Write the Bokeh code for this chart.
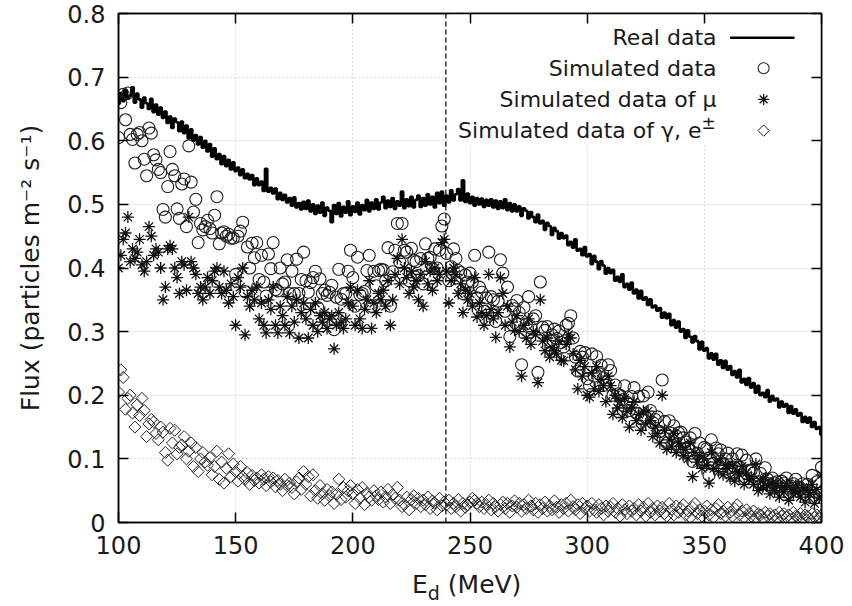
from bokeh.plotting import figure
from bokeh.layouts import column
from bokeh.models import Range1d, LinearAxis, FixedTicker, Span, BoxAnnotation, Label, Div
from bokeh.embed import file_html
from bokeh.resources import INLINE

FONT = "DejaVu Sans"
TEXT = "#1a1a1a"

# ---------------- data ----------------
e_start = 100  # MeV, one value per MeV

real_flux = [
    0.658, 0.675, 0.662, 0.680, 0.666, 0.671, 0.684, 0.660, 0.674, 0.665,
    0.652, 0.668, 0.659, 0.650, 0.666, 0.645, 0.657, 0.641, 0.652, 0.636,
    0.646, 0.628, 0.638, 0.620, 0.635, 0.629, 0.615, 0.630, 0.612, 0.624,
    0.604, 0.618, 0.600, 0.609, 0.594, 0.606, 0.589, 0.600, 0.583, 0.595,
    0.575, 0.588, 0.571, 0.579, 0.563, 0.576, 0.560, 0.570, 0.555, 0.566,
    0.552, 0.558, 0.546, 0.555, 0.541, 0.548, 0.539, 0.546, 0.530, 0.541,
    0.530, 0.536, 0.521, 0.556, 0.520, 0.526, 0.517, 0.525, 0.508, 0.518,
    0.507, 0.515, 0.503, 0.510, 0.498, 0.511, 0.495, 0.502, 0.492, 0.504,
    0.493, 0.506, 0.489, 0.500, 0.485, 0.498, 0.487, 0.503, 0.482, 0.495,
    0.490, 0.472, 0.499, 0.485, 0.502, 0.481, 0.496, 0.487, 0.505, 0.483,
    0.497, 0.488, 0.503, 0.484, 0.499, 0.491, 0.507, 0.489, 0.503, 0.493,
    0.508, 0.492, 0.503, 0.512, 0.494, 0.506, 0.496, 0.510, 0.493, 0.505,
    0.498, 0.520, 0.494, 0.508, 0.497, 0.512, 0.495, 0.507, 0.514, 0.496,
    0.510, 0.498, 0.516, 0.500, 0.512, 0.495, 0.518, 0.502, 0.520, 0.498,
    0.514, 0.503, 0.522, 0.506, 0.516, 0.524, 0.506, 0.538, 0.504, 0.517,
    0.502, 0.512, 0.498, 0.510, 0.500, 0.509, 0.496, 0.507, 0.498, 0.508,
    0.495, 0.506, 0.493, 0.505, 0.494, 0.508, 0.491, 0.502, 0.489, 0.500,
    0.489, 0.497, 0.482, 0.494, 0.490, 0.478, 0.488, 0.480, 0.472, 0.484,
    0.470, 0.474, 0.460, 0.471, 0.466, 0.452, 0.463, 0.458, 0.446, 0.455,
    0.447, 0.451, 0.436, 0.441, 0.432, 0.445, 0.427, 0.430, 0.420, 0.433,
    0.418, 0.422, 0.406, 0.419, 0.410, 0.398, 0.411, 0.404, 0.391, 0.400,
    0.392, 0.397, 0.380, 0.386, 0.378, 0.390, 0.370, 0.375, 0.366, 0.377,
    0.360, 0.366, 0.352, 0.364, 0.350, 0.354, 0.342, 0.351, 0.338, 0.341,
    0.333, 0.337, 0.322, 0.330, 0.321, 0.328, 0.310, 0.318, 0.306, 0.316,
    0.300, 0.304, 0.290, 0.302, 0.292, 0.283, 0.293, 0.285, 0.272, 0.284,
    0.270, 0.274, 0.258, 0.266, 0.256, 0.265, 0.248, 0.255, 0.243, 0.254,
    0.240, 0.246, 0.232, 0.238, 0.228, 0.240, 0.220, 0.226, 0.216, 0.227,
    0.212, 0.219, 0.204, 0.215, 0.200, 0.204, 0.197, 0.208, 0.190, 0.199,
    0.192, 0.195, 0.181, 0.190, 0.182, 0.186, 0.172, 0.183, 0.171, 0.178,
    0.168, 0.172, 0.158, 0.166, 0.157, 0.165, 0.150, 0.158, 0.147, 0.150,
    0.138,
]

sim_total = [
    0.605, 0.660, 0.673, 0.633, 0.675, 0.610, 0.602, 0.565, 0.610, 0.613,
    0.600, 0.571, 0.545, 0.620, 0.612, 0.578, 0.570, 0.555, 0.550, 0.492,
    0.480, 0.528, 0.583, 0.555, 0.545, 0.493, 0.478, 0.532, 0.540, 0.465,
    0.592, 0.535, 0.488, 0.508, 0.440, 0.470, 0.460, 0.465, 0.475, 0.462,
    0.455, 0.483, 0.512, 0.438, 0.455, 0.457, 0.450, 0.453, 0.447, 0.447,
    0.390, 0.450, 0.458, 0.472, 0.363, 0.433, 0.400, 0.439, 0.416, 0.440,
    0.382, 0.420, 0.378, 0.356, 0.422, 0.399, 0.440, 0.366, 0.364, 0.400,
    0.375, 0.378, 0.413, 0.360, 0.395, 0.360, 0.414, 0.360, 0.382, 0.425,
    0.380, 0.362, 0.377, 0.385, 0.395, 0.338, 0.383, 0.360, 0.365, 0.357,
    0.362, 0.373, 0.303, 0.354, 0.398, 0.351, 0.360, 0.360, 0.395, 0.428,
    0.385, 0.340, 0.417, 0.358, 0.360, 0.363, 0.396, 0.420, 0.340, 0.395,
    0.372, 0.396, 0.398, 0.397, 0.380, 0.432, 0.340, 0.394, 0.428, 0.470,
    0.410, 0.470, 0.428, 0.425, 0.380, 0.431, 0.412, 0.410, 0.388, 0.415,
    0.375, 0.438, 0.415, 0.417, 0.399, 0.430, 0.400, 0.428, 0.466, 0.477,
    0.423, 0.380, 0.402, 0.430, 0.415, 0.396, 0.393, 0.360, 0.389, 0.378,
    0.392, 0.378, 0.420, 0.353, 0.370, 0.362, 0.332, 0.353, 0.425, 0.355,
    0.350, 0.316, 0.348, 0.413, 0.392, 0.332, 0.370, 0.292, 0.341, 0.336,
    0.349, 0.330, 0.248, 0.338, 0.312, 0.355, 0.306, 0.320, 0.325, 0.236,
    0.378, 0.307, 0.302, 0.308, 0.286, 0.295, 0.304, 0.289, 0.301, 0.283,
    0.276, 0.310, 0.313, 0.325, 0.290, 0.260, 0.238, 0.269, 0.260, 0.267,
    0.226, 0.215, 0.265, 0.230, 0.261, 0.234, 0.247, 0.227, 0.216, 0.248,
    0.239, 0.200, 0.216, 0.202, 0.200, 0.193, 0.215, 0.189, 0.176, 0.198,
    0.212, 0.172, 0.198, 0.163, 0.199, 0.165, 0.205, 0.176, 0.157, 0.162,
    0.166, 0.143, 0.224, 0.159, 0.125, 0.160, 0.140, 0.152, 0.136, 0.141,
    0.142, 0.133, 0.127, 0.118, 0.133, 0.096, 0.140, 0.109, 0.125, 0.095,
    0.118, 0.116, 0.074, 0.130, 0.093, 0.117, 0.108, 0.114, 0.093, 0.100,
    0.109, 0.086, 0.100, 0.087, 0.108, 0.087, 0.106, 0.068, 0.098, 0.082,
    0.082, 0.078, 0.100, 0.064, 0.077, 0.061, 0.086, 0.068, 0.059, 0.070,
    0.062, 0.064, 0.056, 0.065, 0.062, 0.070, 0.047, 0.057, 0.061, 0.068,
    0.056, 0.054, 0.061, 0.044, 0.060, 0.049, 0.074, 0.038, 0.064, 0.046,
    0.087,
]

sim_mu = [
    0.400, 0.420, 0.445, 0.455, 0.480, 0.410, 0.430, 0.415, 0.425, 0.445,
    0.405, 0.395, 0.410, 0.465, 0.450, 0.420, 0.430, 0.425, 0.400, 0.350,
    0.370, 0.430, 0.435, 0.430, 0.400, 0.385, 0.360, 0.410, 0.405, 0.365,
    0.480, 0.410, 0.400, 0.390, 0.360, 0.370, 0.350, 0.370, 0.385, 0.360,
    0.380, 0.395, 0.400, 0.370, 0.360, 0.395, 0.365, 0.345, 0.375, 0.355,
    0.310, 0.385, 0.370, 0.400, 0.295, 0.355, 0.340, 0.365, 0.350, 0.370,
    0.320, 0.345, 0.310, 0.298, 0.350, 0.335, 0.370, 0.310, 0.298, 0.340,
    0.325, 0.310, 0.355, 0.298, 0.340, 0.315, 0.350, 0.290, 0.330, 0.345,
    0.320, 0.290, 0.335, 0.310, 0.345, 0.300, 0.325, 0.315, 0.330, 0.305,
    0.320, 0.325, 0.273, 0.310, 0.330, 0.315, 0.305, 0.320, 0.345, 0.370,
    0.340, 0.310, 0.365, 0.320, 0.305, 0.335, 0.350, 0.380, 0.305, 0.345,
    0.330, 0.360, 0.350, 0.365, 0.340, 0.380, 0.310, 0.350, 0.390, 0.415,
    0.375, 0.445, 0.400, 0.385, 0.360, 0.395, 0.370, 0.380, 0.350, 0.390,
    0.340, 0.410, 0.375, 0.395, 0.365, 0.400, 0.380, 0.390, 0.440, 0.445,
    0.395, 0.345, 0.380, 0.400, 0.390, 0.360, 0.375, 0.330, 0.365, 0.350,
    0.360, 0.340, 0.385, 0.323, 0.345, 0.330, 0.310, 0.325, 0.390, 0.335,
    0.320, 0.291, 0.330, 0.385, 0.360, 0.310, 0.340, 0.276, 0.315, 0.302,
    0.325, 0.300, 0.230, 0.310, 0.290, 0.320, 0.280, 0.300, 0.295, 0.220,
    0.350, 0.285, 0.270, 0.290, 0.260, 0.275, 0.270, 0.265, 0.285, 0.255,
    0.254, 0.280, 0.295, 0.290, 0.265, 0.240, 0.210, 0.255, 0.230, 0.245,
    0.200, 0.197, 0.235, 0.210, 0.245, 0.206, 0.225, 0.215, 0.190, 0.230,
    0.215, 0.170, 0.200, 0.180, 0.190, 0.165, 0.195, 0.175, 0.150, 0.180,
    0.190, 0.160, 0.170, 0.145, 0.175, 0.155, 0.175, 0.160, 0.135, 0.150,
    0.140, 0.125, 0.200, 0.145, 0.115, 0.130, 0.120, 0.140, 0.110, 0.125,
    0.120, 0.105, 0.115, 0.100, 0.125, 0.072, 0.110, 0.095, 0.105, 0.085,
    0.100, 0.090, 0.062, 0.110, 0.085, 0.095, 0.080, 0.100, 0.075, 0.090,
    0.085, 0.070, 0.090, 0.065, 0.080, 0.075, 0.088, 0.060, 0.078, 0.068,
    0.072, 0.060, 0.092, 0.050, 0.065, 0.055, 0.070, 0.058, 0.045, 0.062,
    0.050, 0.058, 0.040, 0.055, 0.048, 0.062, 0.035, 0.052, 0.045, 0.058,
    0.048, 0.040, 0.055, 0.032, 0.050, 0.044, 0.060, 0.030, 0.052, 0.040,
    0.075,
]

sim_gamma = [
    0.205, 0.240, 0.228, 0.178, 0.195, 0.200, 0.172, 0.150, 0.185, 0.168,
    0.195, 0.176, 0.135, 0.155, 0.162, 0.158, 0.140, 0.130, 0.150, 0.142,
    0.110, 0.098, 0.148, 0.125, 0.145, 0.108, 0.118, 0.122, 0.135, 0.100,
    0.112, 0.125, 0.088, 0.118, 0.080, 0.100, 0.110, 0.095, 0.090, 0.102,
    0.075, 0.088, 0.112, 0.068, 0.095, 0.062, 0.085, 0.108, 0.072, 0.092,
    0.080, 0.065, 0.088, 0.072, 0.068, 0.078, 0.060, 0.074, 0.066, 0.070,
    0.062, 0.075, 0.068, 0.058, 0.072, 0.064, 0.070, 0.056, 0.066, 0.060,
    0.050, 0.068, 0.058, 0.062, 0.055, 0.045, 0.064, 0.070, 0.052, 0.080,
    0.060, 0.072, 0.042, 0.075, 0.050, 0.038, 0.058, 0.045, 0.035, 0.052,
    0.042, 0.048, 0.030, 0.044, 0.068, 0.036, 0.055, 0.040, 0.050, 0.058,
    0.045, 0.030, 0.052, 0.038, 0.055, 0.028, 0.046, 0.040, 0.035, 0.050,
    0.042, 0.036, 0.048, 0.032, 0.040, 0.052, 0.030, 0.044, 0.038, 0.055,
    0.035, 0.025, 0.028, 0.040, 0.020, 0.036, 0.042, 0.030, 0.038, 0.025,
    0.035, 0.028, 0.040, 0.022, 0.034, 0.030, 0.020, 0.038, 0.026, 0.032,
    0.028, 0.035, 0.022, 0.030, 0.025, 0.036, 0.018, 0.030, 0.024, 0.028,
    0.032, 0.038, 0.035, 0.030, 0.025, 0.032, 0.022, 0.028, 0.035, 0.020,
    0.030, 0.025, 0.018, 0.028, 0.032, 0.022, 0.030, 0.016, 0.026, 0.034,
    0.024, 0.030, 0.018, 0.028, 0.022, 0.035, 0.026, 0.020, 0.030, 0.016,
    0.028, 0.022, 0.032, 0.018, 0.026, 0.020, 0.034, 0.024, 0.016, 0.028,
    0.022, 0.030, 0.018, 0.035, 0.025, 0.020, 0.028, 0.014, 0.030, 0.022,
    0.026, 0.018, 0.030, 0.020, 0.016, 0.028, 0.022, 0.012, 0.026, 0.018,
    0.024, 0.030, 0.016, 0.022, 0.010, 0.028, 0.020, 0.014, 0.026, 0.018,
    0.022, 0.012, 0.028, 0.018, 0.024, 0.010, 0.030, 0.016, 0.022, 0.012,
    0.026, 0.018, 0.024, 0.014, 0.010, 0.030, 0.020, 0.012, 0.026, 0.016,
    0.022, 0.028, 0.012, 0.018, 0.008, 0.024, 0.030, 0.014, 0.020, 0.010,
    0.018, 0.026, 0.012, 0.020, 0.008, 0.022, 0.028, 0.014, 0.018, 0.010,
    0.024, 0.016, 0.010, 0.022, 0.028, 0.012, 0.018, 0.008, 0.020, 0.014,
    0.010, 0.018, 0.008, 0.014, 0.012, 0.006, 0.016, 0.010, 0.014, 0.008,
    0.012, 0.006, 0.016, 0.010, 0.014, 0.008, 0.012, 0.005, 0.016, 0.010,
    0.008, 0.014, 0.006, 0.012, 0.010, 0.005, 0.014, 0.008, 0.012, 0.006,
    0.012,
]

threshold_energy = 239.7  # dashed vertical marker (MeV)

x_ticks = [100, 150, 200, 250, 300, 350, 400]
y_ticks = [0, 0.1, 0.2, 0.3, 0.4, 0.5, 0.6, 0.7, 0.8]
y_tick_text = ["0", "0.1", "0.2", "0.3", "0.4", "0.5", "0.6", "0.7", "0.8"]

legend_labels = ["Real data", "Simulated data", "Simulated data of μ",
                 "Simulated data of γ, e"]
legend_sup = "\u00b1"

energy_real = list(range(e_start, e_start + len(real_flux)))
energy_total = list(range(e_start, e_start + len(sim_total)))
energy_mu = list(range(e_start, e_start + len(sim_mu)))
energy_gamma = list(range(e_start, e_start + len(sim_gamma)))

# ---------------- figure ----------------
p = figure(width=852, height=566, x_range=Range1d(100, 400), y_range=Range1d(0, 0.8),
           output_backend="svg", toolbar_location=None,
           min_border_left=118, min_border_right=31, min_border_top=13, min_border_bottom=44,
           background_fill_color="white", border_fill_color="white")
p.outline_line_color = "black"
p.outline_line_width = 1.5

# grid
p.xgrid.ticker = FixedTicker(ticks=x_ticks)
p.ygrid.ticker = FixedTicker(ticks=y_ticks)
for g in (p.xgrid[0], p.ygrid[0]):
    g.grid_line_color = "#b8b8b8"
    g.grid_line_dash = "1 3"
    g.grid_line_width = 1

def style_axis(ax, show_labels):
    ax.axis_line_color = "black"
    ax.axis_line_width = 1.5
    ax.major_tick_line_color = "black"
    ax.major_tick_line_width = 1.5
    ax.major_tick_in = 10
    ax.major_tick_out = 0
    ax.minor_tick_line_color = None
    ax.major_label_text_font = FONT
    if show_labels:
        ax.major_label_text_font_size = "24px"
        ax.major_label_text_color = TEXT
    else:
        ax.major_label_text_font_size = "1px"
        ax.major_label_text_color = None
        ax.major_label_standoff = 0

xb = p.below[0]
yl = p.left[0]
xb.ticker = FixedTicker(ticks=x_ticks)
yl.ticker = FixedTicker(ticks=y_ticks)
style_axis(xb, True)
style_axis(yl, True)
xb.major_label_standoff = 13
yl.major_label_standoff = 13
yl.major_label_overrides = {t: s for t, s in zip(y_ticks, y_tick_text)}

yl.axis_label = "Flux (particles m\u207b\u00b2 s\u207b\u00b9)"
yl.axis_label_text_font = FONT
yl.axis_label_text_font_size = "25px"
yl.axis_label_text_font_style = "normal"
yl.axis_label_text_color = TEXT
yl.axis_label_standoff = 19

top_ax = LinearAxis(ticker=FixedTicker(ticks=x_ticks))
style_axis(top_ax, False)
p.add_layout(top_ax, "above")
right_ax = LinearAxis(ticker=FixedTicker(ticks=y_ticks))
style_axis(right_ax, False)
p.add_layout(right_ax, "right")

# white key box hiding the grid
key_box = BoxAnnotation(left=241, bottom=0.592, fill_color="white", fill_alpha=1.0,
                        line_alpha=0, level="underlay")
p.add_layout(key_box)

# data
p.step(energy_real, real_flux, mode="center", line_color="black", line_width=2.6)
p.scatter(energy_total, sim_total, marker="circle", size=12, fill_alpha=0,
          line_color="#1e1e1e", line_width=1.1)
p.scatter(energy_mu, sim_mu, marker="asterisk", size=12, line_color="#111111", line_width=1.3)
p.scatter(energy_gamma, sim_gamma, marker="square", angle=0.7854, size=8.5, fill_alpha=0,
          line_color="#222222", line_width=1.0)

p.add_layout(Span(location=threshold_energy, dimension="height", line_color="black",
                  line_dash="5 3", line_width=1.2))

# key (text right-aligned, sample on the right, as in the original)
key_rows = [0.762, 0.714, 0.665, 0.616]
key_text_x = 355.2
key_sample_x = 375.3
for i, (lab, yy) in enumerate(zip(legend_labels, key_rows)):
    p.add_layout(Label(x=key_text_x, y=yy, x_offset=(-15 if i == 3 else 0), text=lab,
                       text_font=FONT, text_font_size="22px", text_color=TEXT,
                       text_align="right", text_baseline="middle"))
p.add_layout(Label(x=key_text_x, y=key_rows[3] + 0.012, x_offset=-15, text=legend_sup,
                   text_font=FONT, text_font_size="17px", text_color=TEXT,
                   text_align="left", text_baseline="middle"))
p.line([361, 388.5], [key_rows[0], key_rows[0]], line_color="black", line_width=2.6)
p.scatter([key_sample_x], [key_rows[1]], marker="circle", size=11, fill_alpha=0,
          line_color="#1e1e1e", line_width=1.1)
p.scatter([key_sample_x], [key_rows[2]], marker="asterisk", size=11, line_color="#111111",
          line_width=1.3)
p.scatter([key_sample_x], [key_rows[3]], marker="square", angle=0.7854, size=8, fill_alpha=0,
          line_color="#222222", line_width=1.0)

# x-axis title with subscript: E_d (MeV)
xlabel = Div(
    text=('<div style="margin-left:412px; margin-top:6px; font-family:\'DejaVu Sans\'; '
          'font-size:25px; line-height:25px; color:#1a1a1a; white-space:nowrap;">'
          'E<span style="font-size:19px; position:relative; top:7px;">d</span> (MeV)</div>'),
    width=852, height=40, margin=0)

layout = column(p, xlabel, spacing=0)
open("out.html", "w").write(file_html(layout, INLINE))
